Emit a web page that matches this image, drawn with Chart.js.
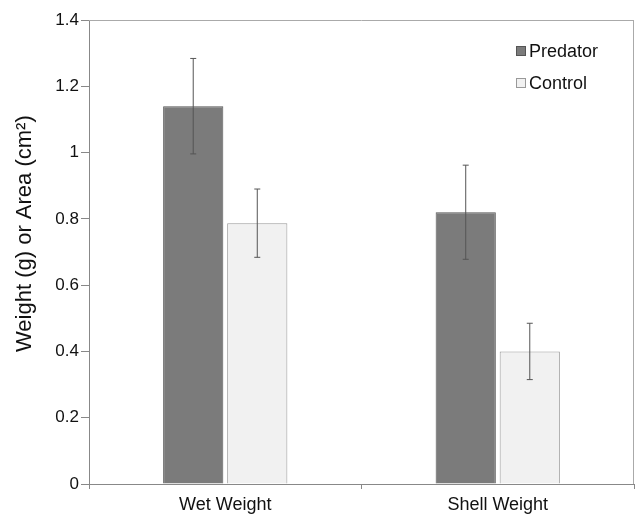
<!DOCTYPE html>
<html>
<head>
<meta charset="utf-8">
<style>
  html, body { margin: 0; padding: 0; background: #fff; }
  #wrap { width: 637px; height: 514px; }
</style>
<script src="https://cdn.jsdelivr.net/npm/chart.js@4.4.0/dist/chart.umd.min.js"></script>
</head>
<body>
<div id="wrap"><canvas id="chart" width="637" height="514"></canvas></div>
<script>
const categories = ['Wet Weight', 'Shell Weight'];
const predatorValues = [1.14, 0.82];
const predatorErrors = [0.144, 0.142];
const controlValues = [0.787, 0.40];
const controlErrors = [0.103, 0.085];
const yTicks = [0, 0.2, 0.4, 0.6, 0.8, 1, 1.2, 1.4];

const FONT = '"Liberation Sans", Arial, sans-serif';

// error bars drawn over each bar
const errorBars = {
    id: 'errorBars',
    afterDatasetsDraw(chart) {
        const ctx = chart.ctx;
        const y = chart.scales.y;
        chart.data.datasets.forEach((ds, i) => {
            const meta = chart.getDatasetMeta(i);
            meta.data.forEach((bar, j) => {
                const v = ds.data[j], e = ds.errors[j];
                const top = y.getPixelForValue(v + e);
                const bot = y.getPixelForValue(v - e);
                ctx.save();
                ctx.strokeStyle = '#555';
                ctx.lineWidth = 1;
                ctx.beginPath();
                ctx.moveTo(bar.x, top); ctx.lineTo(bar.x, bot);
                ctx.moveTo(bar.x - 3, top); ctx.lineTo(bar.x + 3, top);
                ctx.moveTo(bar.x - 3, bot); ctx.lineTo(bar.x + 3, bot);
                ctx.stroke();
                ctx.restore();
            });
        });
    }
};

// box round the plot area and the legend in the top right
const frameAndLegend = {
    id: 'frameAndLegend',
    afterDraw(chart) {
        const ctx = chart.ctx;
        const a = chart.chartArea;
        ctx.save();
        ctx.strokeStyle = '#aaa';
        ctx.lineWidth = 1;
        ctx.beginPath();
        ctx.moveTo(a.left, a.top + 0.5); ctx.lineTo(a.right, a.top + 0.5);
        ctx.moveTo(a.right - 0.5, a.top); ctx.lineTo(a.right - 0.5, a.bottom);
        ctx.stroke();

        const items = chart.data.datasets;
        ctx.font = '18px ' + FONT;
        ctx.textBaseline = 'middle';
        items.forEach((ds, i) => {
            const cy = 51 + i * 32;
            ctx.fillStyle = ds.backgroundColor;
            ctx.fillRect(516.5, cy - 4.5, 9, 9);
            ctx.strokeStyle = ds.borderColor;
            ctx.strokeRect(516.5, cy - 4.5, 9, 9);
            ctx.fillStyle = '#111';
            ctx.fillText(ds.label, 529, cy + 1);
        });
        ctx.restore();
    }
};

new Chart(document.getElementById('chart'), {
    type: 'bar',
    data: {
        labels: categories,
        datasets: [
            {
                label: 'Predator',
                data: predatorValues,
                errors: predatorErrors,
                backgroundColor: '#7b7b7b',
                borderColor: '#555',
                borderWidth: 1,
                categoryPercentage: 0.47,
                barPercentage: 0.94
            },
            {
                label: 'Control',
                data: controlValues,
                errors: controlErrors,
                backgroundColor: '#f1f1f1',
                borderColor: '#999',
                borderWidth: 1,
                categoryPercentage: 0.47,
                barPercentage: 0.94
            }
        ]
    },
    options: {
        responsive: false,
        animation: false,
        layout: { padding: { top: 20, right: 3, left: 0, bottom: 0 } },
        plugins: {
            legend: { display: false },
            tooltip: { enabled: false }
        },
        scales: {
            x: {
                offset: true,
                grid: { offset: true, drawOnChartArea: false, tickLength: 5, color: '#888' },
                border: { color: '#888', width: 1 },
                ticks: {
                    color: '#111',
                    font: { family: FONT, size: 18 },
                    padding: 5
                },
                afterFit(s) { s.height = 30; }
            },
            y: {
                min: 0,
                max: 1.4,
                afterBuildTicks(s) { s.ticks = yTicks.map(v => ({ value: v })); },
                grid: { drawOnChartArea: false, tickLength: 8, color: '#888' },
                border: { color: '#888', width: 1 },
                ticks: {
                    color: '#111',
                    font: { family: FONT, size: 17 },
                    padding: 2,
                    callback: v => String(v)
                },
                title: {
                    display: true,
                    // leading spaces lift the title a little above centre, as in the original
                    text: '\u00a0\u00a0\u00a0\u00a0\u00a0\u00a0Weight (g) or Area (cm²)',
                    color: '#111',
                    font: { family: FONT, size: 22 },
                    padding: { top: 12, bottom: 0 }
                },
                afterFit(s) { s.width = 89; }
            }
        }
    },
    plugins: [errorBars, frameAndLegend]
});
</script>
</body>
</html>
